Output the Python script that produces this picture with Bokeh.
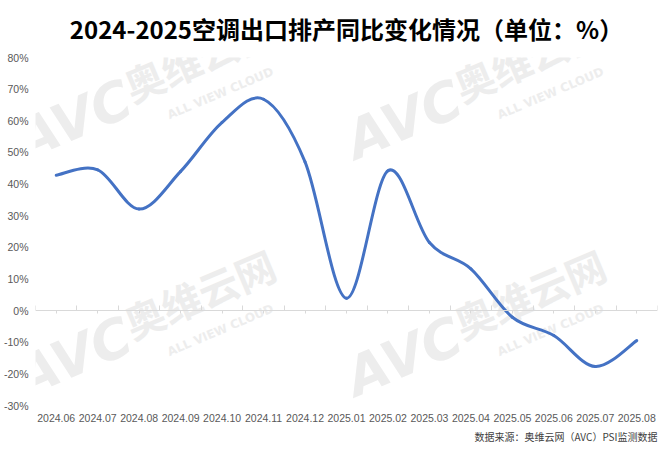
import numpy as np
from bokeh.plotting import figure
from bokeh.models import Range1d, FixedTicker, LinearAxis, Title, ColumnDataSource
from bokeh.core.properties import value
from bokeh.embed import file_html
from bokeh.resources import INLINE

# ---------------- data ----------------
categories = ["2024.06", "2024.07", "2024.08", "2024.09", "2024.10", "2024.11",
              "2024.12", "2025.01", "2025.02", "2025.03", "2025.04", "2025.05",
              "2025.06", "2025.07", "2025.08"]
yoy = [42.8, 44.5, 32.1, 44.0, 59.5, 66.8, 47.0, 3.9, 44.2, 21.5, 13.2, -2.1,
       -7.9, -17.7, -9.5]
y_ticks = [-30, -20, -10, 0, 10, 20, 30, 40, 50, 60, 70, 80]
y_tick_labels = [f"{t}%" for t in y_ticks]
title_text = "2024-2025空调出口排产同比变化情况（单位：%）"
source_text = "数据来源：奥维云网（AVC）PSI监测数据"
watermark_texts = ["AVC", "奥维云网", "ALL VIEW CLOUD"]

# ---------------- styles ----------------
LINE_COLOR = "#4472C4"
AXIS_GRAY = "#D9D9D9"
LABEL_GRAY = "#595959"
WM_COLOR = "#EDEDED"
AXIS_FONT = "Liberation Sans"
CJK_FONT = "Noto Sans CJK SC"

n = len(categories)
xs = [i + 0.5 for i in range(n)]

p = figure(frame_width=622, frame_height=348, output_backend="svg", toolbar_location=None,
           x_range=Range1d(0, n), y_range=Range1d(-30, 80),
           min_border_left=29, min_border_right=4, min_border_top=10,
           min_border_bottom=4)
p.outline_line_color = None
p.xgrid.visible = False
p.ygrid.visible = False
p.background_fill_color = "white"
p.border_fill_color = "white"

# title
p.title.text = title_text
p.title.align = "center"
p.title.vertical_align = "top"
p.title.text_font = CJK_FONT
p.title.text_font_style = "bold"
p.title.text_font_size = "24px"
p.title.text_color = "#000000"
p.title.standoff = 20

# ---------------- watermark ----------------
wm_base = [(-0.1, 43.8), (2.45, 62.0), (3.26, 59.6)]
wm_sizes = ["54px", "40px", "12px"]
wm_styles = ["bold italic", "bold", "bold"]
wm_offsets = [(0.0, 0.0), (7.96, 0.0), (0.0, -74.9), (7.96, -74.9)]
wm_angle = np.deg2rad(23)
for k, txt in enumerate(watermark_texts):
    wx = [wm_base[k][0] + o[0] for o in wm_offsets]
    wy = [wm_base[k][1] + o[1] for o in wm_offsets]
    p.text(x=wx, y=wy, text=[txt] * len(wx), angle=wm_angle,
           text_font=value(CJK_FONT if k == 1 else "DejaVu Sans"),
           text_font_style=wm_styles[k], text_font_size=wm_sizes[k],
           text_color=WM_COLOR, text_align="left", text_baseline="bottom")

# ---------------- smoothed line (Catmull-Rom as cubic Bezier) ----------------
px = np.array(xs)
py = np.array(yoy, dtype=float)
x0, y0, x1, y1, cx0, cy0, cx1, cy1 = ([] for _ in range(8))
for i in range(n - 1):
    pm = (px[max(i - 1, 0)], py[max(i - 1, 0)])
    p0 = (px[i], py[i])
    p1 = (px[i + 1], py[i + 1])
    p2 = (px[min(i + 2, n - 1)], py[min(i + 2, n - 1)])
    x0.append(p0[0]); y0.append(p0[1])
    x1.append(p1[0]); y1.append(p1[1])
    cx0.append(p0[0] + (p1[0] - pm[0]) / 6.0)
    cy0.append(p0[1] + (p1[1] - pm[1]) / 6.0)
    cx1.append(p1[0] - (p2[0] - p0[0]) / 6.0)
    cy1.append(p1[1] - (p2[1] - p0[1]) / 6.0)
src = ColumnDataSource(dict(x0=x0, y0=y0, x1=x1, y1=y1, cx0=cx0, cy0=cy0, cx1=cx1, cy1=cy1))
p.bezier(x0="x0", y0="y0", x1="x1", y1="y1", cx0="cx0", cy0="cy0", cx1="cx1", cy1="cy1",
         source=src, line_color=LINE_COLOR, line_width=3, line_cap="round")

# ---------------- y axis ----------------
p.yaxis.ticker = FixedTicker(ticks=y_ticks)
p.yaxis.major_label_overrides = {t: l for t, l in zip(y_ticks, y_tick_labels)}
p.yaxis.axis_line_color = None
p.yaxis.major_tick_line_color = None
p.yaxis.minor_tick_line_color = None
p.yaxis.major_tick_out = 0
p.yaxis.major_tick_in = 0
p.yaxis.minor_tick_out = 0
p.yaxis.major_label_text_font = AXIS_FONT
p.yaxis.major_label_text_font_size = "10.5px"
p.yaxis.major_label_text_color = LABEL_GRAY
p.yaxis.major_label_standoff = 7

# ---------------- x axis labels (bottom) ----------------
p.xaxis.ticker = FixedTicker(ticks=xs)
p.xaxis.major_label_overrides = {x: c for x, c in zip(xs, categories)}
p.xaxis.axis_line_color = None
p.xaxis.major_tick_line_color = None
p.xaxis.minor_tick_line_color = None
p.xaxis.major_tick_out = 0
p.xaxis.major_tick_in = 0
p.xaxis.minor_tick_out = 0
p.xaxis.major_label_text_font = AXIS_FONT
p.xaxis.major_label_text_font_size = "10.5px"
p.xaxis.major_label_text_color = LABEL_GRAY
p.xaxis.major_label_standoff = 8

# ---------------- zero axis line with ticks ----------------
zero_axis = LinearAxis(ticker=FixedTicker(ticks=xs, minor_ticks=list(range(n + 1))),
                       fixed_location=0)
zero_axis.axis_line_color = AXIS_GRAY
zero_axis.axis_line_width = 1
zero_axis.major_tick_line_color = AXIS_GRAY
zero_axis.major_tick_in = 3
zero_axis.major_tick_out = 0
zero_axis.minor_tick_line_color = AXIS_GRAY
zero_axis.minor_tick_in = 0
zero_axis.minor_tick_out = 5
zero_axis.major_label_overrides = {x: "" for x in xs}
zero_axis.major_label_text_font_size = "1px"
zero_axis.major_label_standoff = 0
p.add_layout(zero_axis, "above")

# ---------------- source note ----------------
p.add_layout(Title(text=source_text, align="right", text_font=CJK_FONT,
                   text_font_size="10px", text_font_style="normal",
                   text_color="#404040", standoff=4), "below")

open("out.html", "w").write(file_html(p, INLINE))
